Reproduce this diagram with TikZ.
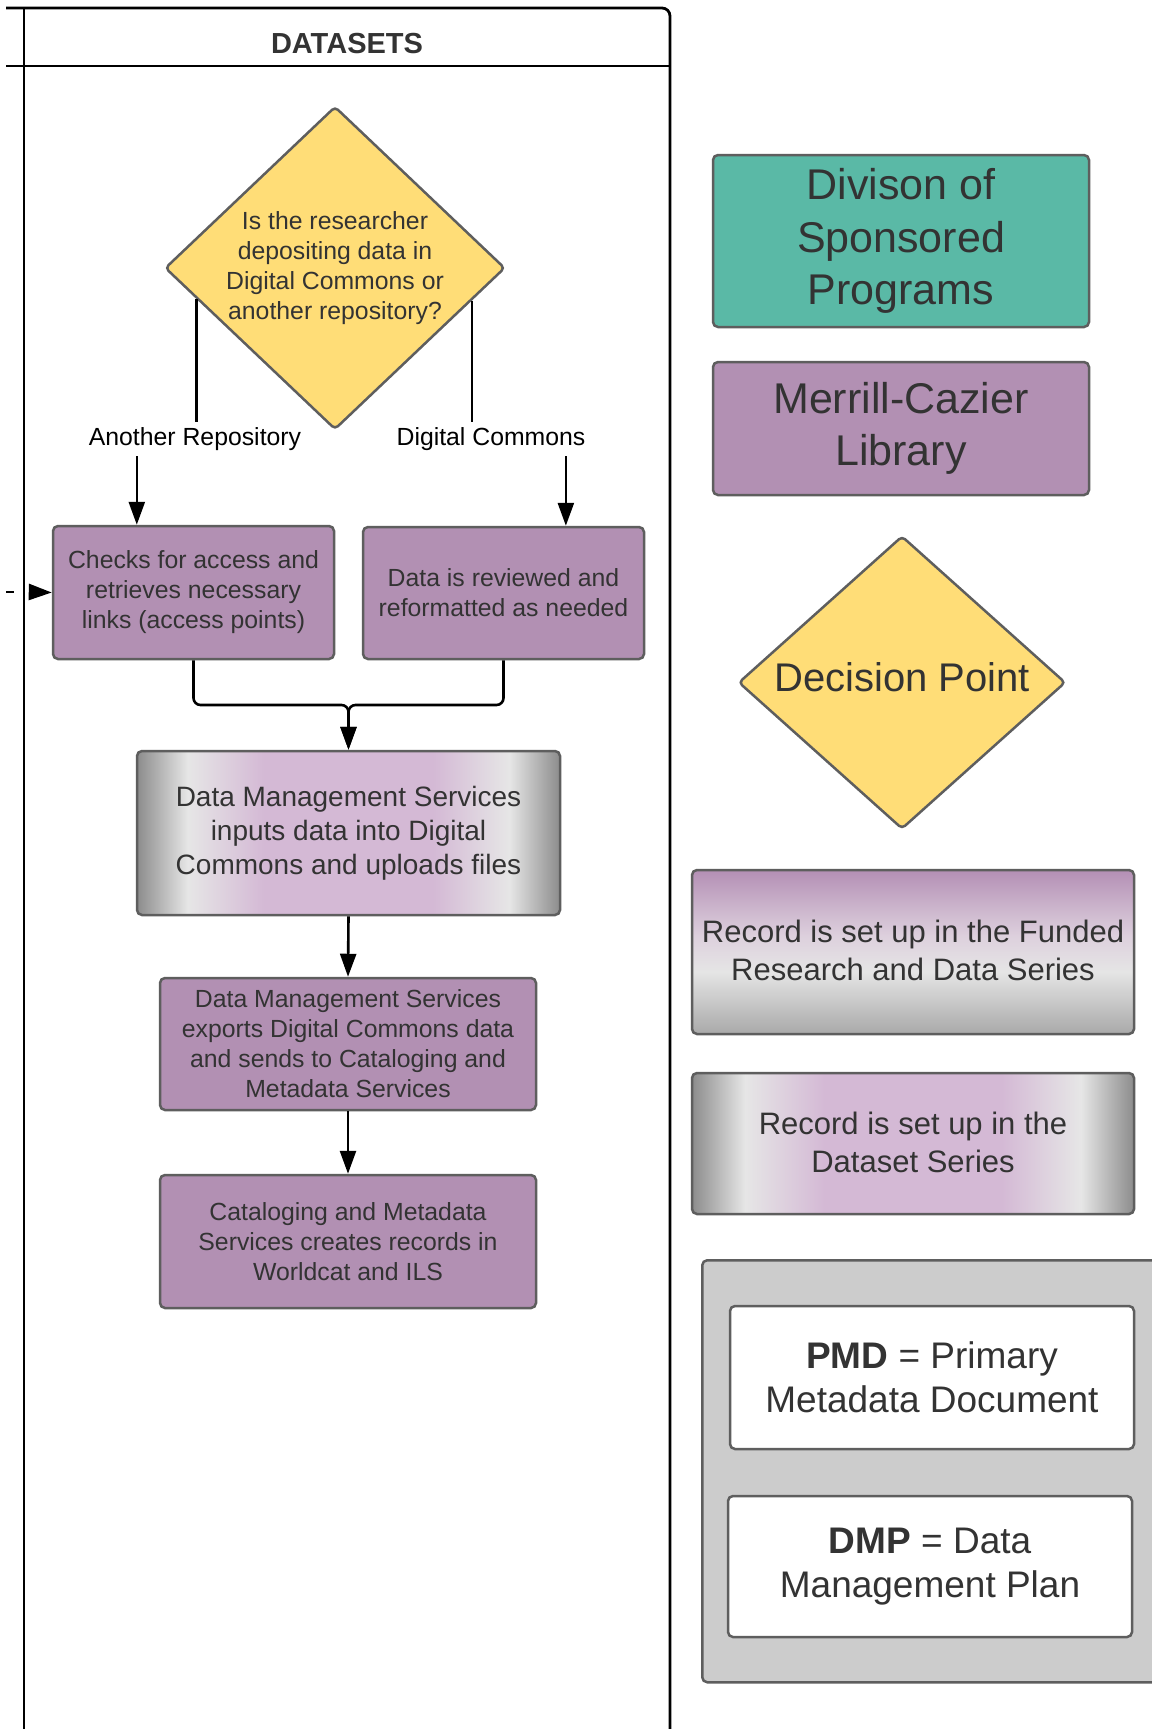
\documentclass[tikz,border=0pt]{standalone}
\usepackage{fontspec}
\setmainfont{Liberation Sans}
\usetikzlibrary{shapes.geometric,arrows.meta,calc}

\definecolor{ylw}{HTML}{FFDD77}
\definecolor{tealbox}{HTML}{5AB9A6}
\definecolor{purp}{HTML}{B290B3}
\definecolor{bord}{HTML}{5E5E5E}
\definecolor{txt}{HTML}{333333}
\definecolor{lgray}{HTML}{CCCCCC}
\definecolor{edgeg}{HTML}{8C8C8C}
\definecolor{lightg}{HTML}{E6E6E6}
\definecolor{lilac}{HTML}{D4B9D5}
\definecolor{fundtop}{HTML}{B48FB5}
\definecolor{fundbot}{HTML}{A9A9A9}
\definecolor{fundmid}{HTML}{E5E5E5}
\definecolor{fundpk}{HTML}{DDD0DD}

% TikZ maps the path onto the middle half (25bp..75bp) of a 100bp shading
\pgfdeclarehorizontalshading{lilacbar}{100bp}{color(0bp)=(edgeg); color(25bp)=(edgeg); color(31bp)=(lightg); color(40bp)=(lilac); color(60bp)=(lilac); color(69bp)=(lightg); color(75bp)=(edgeg); color(100bp)=(edgeg)}
\pgfdeclareverticalshading{fundedbar}{100bp}{color(0bp)=(fundbot); color(25bp)=(fundbot); color(44bp)=(fundmid); color(55bp)=(fundpk); color(75bp)=(fundtop); color(100bp)=(fundtop)}

\newcommand\fntA{\fontsize{24.8}{30}\selectfont}
\newcommand\fntB{\fontsize{28}{34}\selectfont}
\newcommand\fntC{\fontsize{31}{38}\selectfont}
\newcommand\fntD{\fontsize{37}{44}\selectfont}
\newcommand\fntE{\fontsize{43}{52.5}\selectfont}
\newcommand\fntF{\fontsize{40}{48}\selectfont}
\newcommand\fntH{\fontsize{29}{34}\selectfont\bfseries}

\tikzset{
  box/.style={draw=bord, line width=2.5pt, rounded corners=5pt, align=center, text=txt, inner sep=0pt},
  purplebox/.style={box, fill=purp},
  conn/.style={line width=2.6pt, draw=black},
  arr/.style={conn, -{Triangle[length=23pt,width=16pt]}},
  lane/.style={line width=2.8pt, draw=black},
  lbl/.style={fill=white, text=black, inner xsep=2pt, inner ysep=5pt, font=\fntA},
  dia/.style={diamond, draw=bord, line width=2.5pt, fill=ylw, rounded corners=4pt, inner sep=0pt},
}

\begin{document}
\begin{tikzpicture}[x=1pt,y=-1pt]
\useasboundingbox (0,0) rectangle (1151,1729);
\fill[white] (0,0) rectangle (1151,1729);

% swimlane
\draw[lane, rounded corners=8pt] (6,8) -- (670,8) -- (670,1740);
\draw[lane] (24,8) -- (24,1740);
\draw[lane] (6,66) -- (670,66);
\node[font=\fntH, text=txt] (hdr) at (347,44) {DATASETS};

% decision
\node[dia, minimum width=340pt, minimum height=323pt] (q) at (335,268) {};
\node[align=center, text=txt, font=\fntA] (qt) at (335,268) {Is the researcher\\depositing data in\\Digital Commons or\\another repository?};

% boxes
\node[purplebox, minimum width=281pt, minimum height=133pt, font=\fntA] (checks) at (193.5,592.5) {Checks for access and\\retrieves necessary\\links (access points)};
\node[purplebox, minimum width=281pt, minimum height=132pt, font=\fntA] (review) at (503.5,593) {Data is reviewed and\\reformatted as needed};
\node[box, shading=lilacbar, minimum width=423pt, minimum height=164pt, font=\fntB] (dms1) at (348.5,833) {Data Management Services\\inputs data into Digital\\Commons and uploads files};
\node[purplebox, minimum width=376pt, minimum height=132pt, font=\fntA] (dms2) at (348,1044) {Data Management Services\\exports Digital Commons data\\and sends to Cataloging and\\Metadata Services};
\node[purplebox, minimum width=376pt, minimum height=133pt, font=\fntA] (cat) at (348,1241.5) {Cataloging and Metadata\\Services creates records in\\Worldcat and ILS};

% connectors from decision
\coordinate (qL) at ($(q.west)!0.19!(q.south)$);
\coordinate (qR) at ($(q.east)!0.2!(q.south)$);
\coordinate (chkIn) at ($(checks.north west)!0.3!(checks.north east)$);
\coordinate (revIn) at ($(review.north west)!0.72!(review.north east)$);
\draw[arr] (qL) -- (qL |- 0,439) -| (chkIn);
\draw[arr] (qR) -- (qR |- 0,439) -| (revIn);
\node[lbl] (la) at (195,439) {Another Repository};
\node[lbl] (lb) at (491,439) {Digital Commons};

% incoming arrow from the left
\coordinate (inA) at (6,592);
\coordinate (inB) at (14,592);
\coordinate (inC) at (30,592);
\draw[conn] (inA) -- (inB);
\draw[arr] (inC) -- (checks.west);

% merge
\coordinate (j) at (348.5,705);
\draw[arr, rounded corners=7pt] (checks.south) |- (j) -- (dms1.north);
\draw[arr, rounded corners=7pt] (review.south) |- (j) -- (dms1.north);
\draw[arr] (dms1.south) -- (dms2.north);
\draw[arr] (dms2.south) -- (cat.north);

% legend side
\node[box, fill=tealbox, minimum width=376pt, minimum height=172pt, font=\fntE] (dsp) at (901,241) {Divison of\\Sponsored\\Programs};
\node[purplebox, minimum width=376pt, minimum height=133pt, font=\fntE] (mcl) at (901,428.5) {Merrill-Cazier\\Library};
\node[dia, minimum width=327pt, minimum height=293pt] (dp) at (902,682.5) {};
\node[text=txt, font=\fntF] (dpt) at (902,677) {Decision Point};
\node[box, shading=fundedbar, minimum width=442pt, minimum height=164pt, font=\fntC] (fund) at (913,952) {\raisebox{3pt}{Record is set up in the Funded}\\\raisebox{3pt}{Research and Data Series}};
\node[box, shading=lilacbar, minimum width=442pt, minimum height=141pt, font=\fntC] (dset) at (913,1143.5) {\raisebox{3pt}{Record is set up in the}\\\raisebox{3pt}{Dataset Series}};

\node[box, fill=lgray, minimum width=480pt, minimum height=422pt, anchor=north west] (legend) at (701,1259) {};
\node[box, fill=white, minimum width=404pt, minimum height=143pt, font=\fntD] (pmd) at (932,1377.5) {\textbf{PMD} = Primary\\Metadata Document};
\node[box, fill=white, minimum width=404pt, minimum height=141pt, font=\fntD] (dmp) at (930,1566.5) {\textbf{DMP} = Data\\Management Plan};
\end{tikzpicture}
\end{document}
